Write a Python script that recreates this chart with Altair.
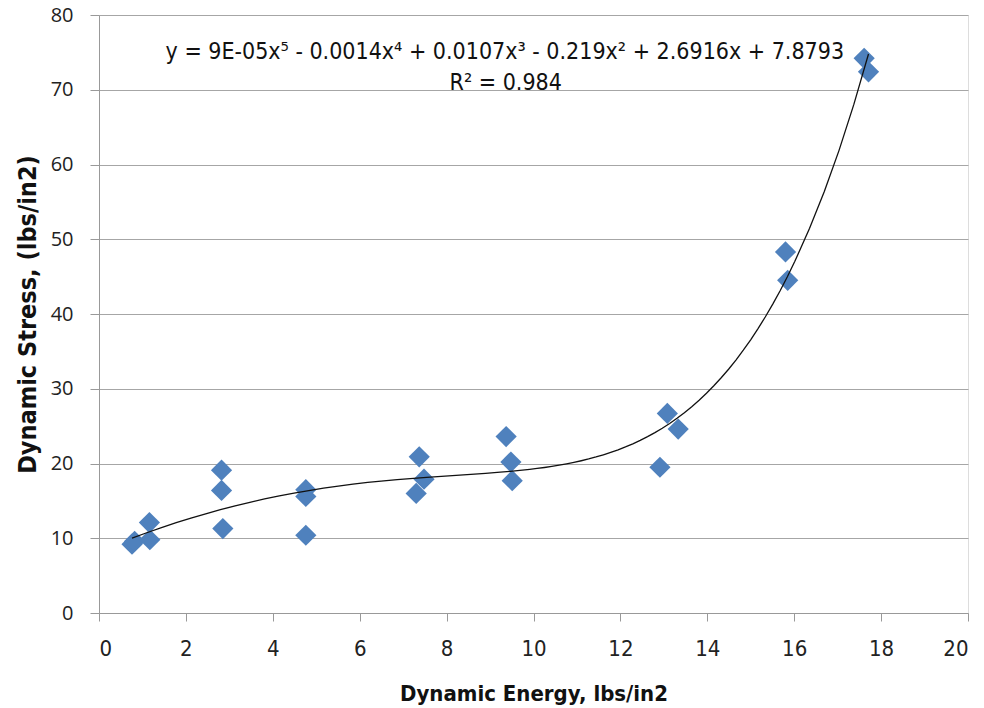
import altair as alt
import pandas as pd

energy = [0.76, 0.82, 1.17, 1.16, 2.82, 2.82, 2.85, 4.76, 4.76, 4.76,
          7.37, 7.48, 7.30, 9.37, 9.48, 9.51, 12.91, 13.08, 13.33,
          15.80, 15.85, 17.61, 17.71]
stress = [9.2, 9.6, 9.8, 12.1, 19.1, 16.4, 11.3, 16.5, 15.6, 10.4,
          20.9, 17.9, 16.0, 23.6, 20.2, 17.7, 19.5, 26.7, 24.6,
          48.3, 44.5, 74.2, 72.4]

eq_text = ["y = 9E-05x\u2075 - 0.0014x\u2074 + 0.0107x\u00b3 - 0.219x\u00b2 + 2.6916x + 7.8793",
           "R\u00b2 = 0.984"]
eq_x = [9.34, 9.36]
eq_y = [75.0, 70.9]

df = pd.DataFrame({"energy": energy, "stress": stress})
ann = pd.DataFrame({"label": eq_text, "x": eq_x, "y": eq_y})

NARROW = "'DejaVu Sans Condensed', 'Liberation Sans Narrow', Roboto, sans-serif"

xs = alt.Scale(domain=[0, 20], nice=False, zero=False)
ys = alt.Scale(domain=[0, 80], nice=False)

xaxis = alt.Axis(title="Dynamic Energy, lbs/in2", values=list(range(0, 21, 2)), grid=False,
                 domainColor="#999999", tickColor="#999999", tickSize=8,
                 labelFont=NARROW, labelFontSize=22, labelColor="#222222",
                 labelPadding=17, titleFont=NARROW, titleFontSize=22,
                 titleFontWeight="bold", titleColor="#111111", titlePadding=24)
yaxis = alt.Axis(title="Dynamic Stress, (lbs/in2)", values=list(range(0, 81, 10)), grid=True,
                 gridColor="#a6a6a6", gridWidth=1.2, domainColor="#999999", tickColor="#999999",
                 tickSize=9, labelFont="Open Sans", labelFontSize=20, labelColor="#222222",
                 labelPadding=17, titleFont=NARROW, titleFontSize=25,
                 titleFontWeight="bold", titleColor="#111111", titlePadding=10)

base = alt.Chart(df)

points = base.mark_point(shape="diamond", filled=True, size=450, color="#4F81BD", opacity=1).encode(
    x=alt.X("energy:Q", scale=xs, axis=xaxis),
    y=alt.Y("stress:Q", scale=ys, axis=yaxis),
)

trend = base.transform_regression("energy", "stress", method="poly", order=5).mark_line(
    color="#111111", strokeWidth=1.3).encode(
    x=alt.X("energy:Q", scale=xs),
    y=alt.Y("stress:Q", scale=ys),
)

text = alt.Chart(ann).mark_text(font=NARROW, fontSize=23, color="#111111",
                                align="center", baseline="middle").encode(
    x=alt.X("x:Q", scale=xs),
    y=alt.Y("y:Q", scale=ys),
    text="label:N",
)

chart = alt.layer(points, trend, text).properties(
    width=869, height=598,
    autosize=alt.AutoSizeParams(type="none"),
    padding={"left": 99, "top": 15, "right": 16, "bottom": 95},
).configure_view(stroke=None).configure(background="white")

chart.save("out.html", embed_options={"renderer": "svg", "actions": False})
